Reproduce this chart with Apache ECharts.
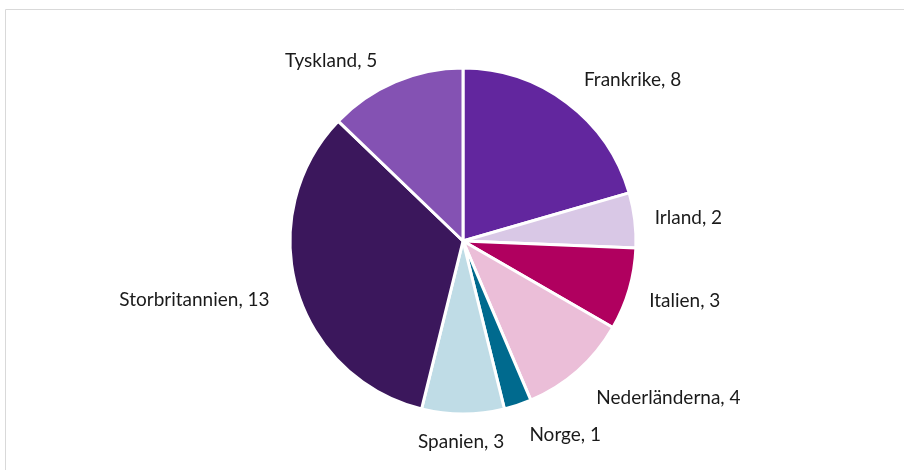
<!DOCTYPE html>
<html>
<head>
<meta charset="utf-8">
<script src="https://cdn.jsdelivr.net/npm/echarts@6/dist/echarts.min.js"></script>
<style>
  html, body { margin: 0; padding: 0; background: #fff; }
  #main { width: 904px; height: 470px; }
</style>
</head>
<body>
<div id="main"></div>
<script>
// data
var countries = ['Frankrike', 'Irland', 'Italien', 'Nederländerna', 'Norge', 'Spanien', 'Storbritannien', 'Tyskland'];
var counts = [8, 2, 3, 4, 1, 3, 13, 5];
var colors = ['#62269e', '#d9c8e6', '#b0005f', '#ebbed8', '#006a8e', '#bfdce6', '#3b175c', '#8452b3'];

// small nudges so the labels sit where Excel put them
var labelNudge = [[0, -7], [0, 0], [0, 6], [-3, 12], [-19, 11], [-50, -3], [-3, 5], [-5, -3]];

var myChart = echarts.init(document.getElementById('main'));

myChart.setOption({
    animation: false,
    graphic: [{
        type: 'rect',
        shape: { x: 5.5, y: 9.5, width: 910, height: 480 },
        style: { fill: 'none', stroke: '#d9d9d9', lineWidth: 1 }
    }],
    series: [{
        type: 'pie',
        center: [463, 241],
        radius: 173,
        startAngle: 90,
        clockwise: true,
        data: countries.map(function (c, i) {
            return { name: c, value: counts[i], itemStyle: { color: colors[i] } };
        }),
        itemStyle: { borderColor: '#fff', borderWidth: 3 },
        label: {
            show: true,
            position: 'outside',
            formatter: '{b}, {c}',
            fontFamily: 'Lato',
            fontSize: 19,
            color: '#1a1a1a'
        },
        labelLine: { show: false, length: 20, length2: 0 },
        labelLayout: function (p) {
            var n = labelNudge[p.dataIndex];
            return { dx: n[0], dy: n[1] };
        },
        emphasis: { disabled: true }
    }]
});
</script>
</body>
</html>
